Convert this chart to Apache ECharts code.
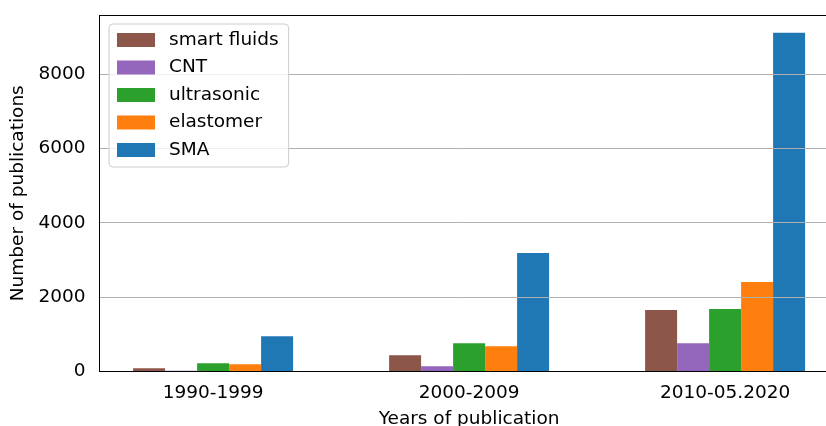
<!DOCTYPE html>
<html>
<head>
<meta charset="utf-8">
<script src="https://cdn.jsdelivr.net/npm/echarts@6/dist/echarts.min.js"></script>
<style>
html,body{margin:0;padding:0;background:#fff;}
#c{width:826px;height:426px;}
</style>
</head>
<body>
<div id="c"></div>
<script>
const categories = ['1990-1999', '2000-2009', '2010-05.2020'];
const seriesNames = ['smart fluids', 'CNT', 'ultrasonic', 'elastomer', 'SMA'];
const smartFluids = [75, 425, 1645];
const cnt = [5, 128, 750];
const ultrasonic = [210, 750, 1670];
const elastomer = [185, 668, 2400];
const sma = [940, 3185, 9127];
const yTicks = [0, 2000, 4000, 6000, 8000];
const colors = ['#8c564b', '#9467bd', '#2ca02c', '#ff7f0e', '#1f77b4'];

const allValues = [smartFluids, cnt, ultrasonic, elastomer, sma];
const FONT = 'DejaVu Sans';
const FS = 18.5;

const chart = echarts.init(document.getElementById('c'), null, {renderer: 'canvas'});
const series = seriesNames.map((name, i) => ({
  name: name,
  type: 'bar',
  barWidth: 32,
  barGap: '0%',
  z: 2,
  itemStyle: {color: colors[i]},
  data: allValues[i].map((v, j) => [j, v])
}));

chart.setOption({
  animation: false,
  backgroundColor: '#fff',
  grid: {left: 99.5, top: 15.5, width: 739.2, height: 355.5, show: false, containLabel: false, outerBoundsMode: 'none'},
  legend: {
    data: seriesNames,
    orient: 'vertical',
    left: 109, top: 24,
    padding: [6, 10, 7, 8],
    itemWidth: 38, itemHeight: 14, itemGap: 7.5,
    icon: 'rect',
    backgroundColor: 'rgba(255,255,255,0.8)',
    borderColor: '#cccccc', borderWidth: 1, borderRadius: 4,
    textStyle: {fontFamily: FONT, fontSize: FS, color: '#000', lineHeight: 20, padding: [0, 0, 0, 9]},
    z: 10
  },
  xAxis: [{
    type: 'value',
    min: -0.44375, max: 2.44375,
    z: 4,
    axisLine: {show: true, onZero: false, lineStyle: {color: '#000', width: 1.2}},
    axisTick: {show: false},
    splitLine: {show: false},
    axisLabel: {
      customValues: [0, 1, 2],
      formatter: v => categories[Math.round(v)] || '',
      fontFamily: FONT, fontSize: FS, color: '#000', margin: 13
    },
    name: 'Years of publication',
    nameLocation: 'middle', nameGap: 39,
    nameTextStyle: {fontFamily: FONT, fontSize: FS, color: '#000'}
  }, {
    type: 'value', position: 'top',
    min: -0.44375, max: 2.44375,
    z: 4,
    axisLine: {show: true, onZero: false, lineStyle: {color: '#000', width: 1}},
    axisTick: {show: false}, axisLabel: {show: false}, splitLine: {show: false}
  }],
  yAxis: {
    type: 'value',
    min: 0, max: 9590, interval: 2000,
    z: 3,
    axisLine: {show: true, onZero: false, lineStyle: {color: '#000', width: 1}},
    axisTick: {show: false},
    splitLine: {show: true, lineStyle: {color: '#b0b0b0', width: 1}},
    axisLabel: {
      formatter: v => yTicks.indexOf(v) >= 0 ? String(v) : '',
      fontFamily: FONT, fontSize: FS, color: '#000', margin: 14
    },
    name: 'Number of publications',
    nameLocation: 'middle', nameGap: 67, nameRotate: 90,
    nameTextStyle: {fontFamily: FONT, fontSize: FS, color: '#000'}
  },
  series: series
});
</script>
</body>
</html>
